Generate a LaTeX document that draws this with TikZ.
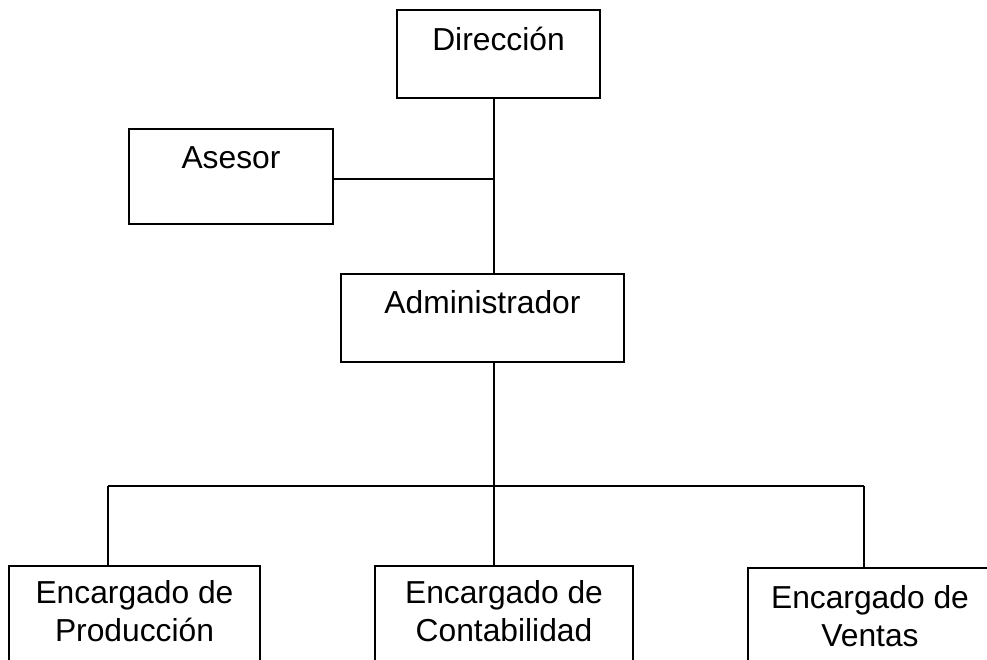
\documentclass[tikz,border=0pt]{standalone}
\usepackage{fontspec}
\setmainfont{Liberation Sans}
\begin{document}
\begin{tikzpicture}[x=0.025cm,y=-0.025cm,
	caja/.style={draw, rectangle, line width=1.3pt, inner sep=0pt, align=center, anchor=base, font=\fontsize{22.6}{27}\selectfont},
	linea/.style={line width=1.2pt}]
	\useasboundingbox (0,0) rectangle (987,659);
	\clip (0,0) rectangle (987,659);
	\node[caja, minimum width=5.075cm, text height=1cm, text depth=1.2cm] (dir) at (498.5,50) {Dirección};
	\node[caja, minimum width=5.1cm, text height=0.975cm, text depth=1.4cm] (ase) at (231,168) {Asesor};
	\node[caja, minimum width=7.075cm, text height=0.975cm, text depth=1.225cm] (adm) at (482.5,313) {Administrador};
	\node[caja, minimum width=6.275cm, text height=1.875cm, text depth=2cm] (prod) at (134.5,641) {Encargado de\\Producción};
	\node[caja, minimum width=6.45cm, text height=1.875cm, text depth=2cm] (cont) at (504,641) {Encargado de\\Contabilidad};
	\node[caja, minimum width=6.1cm, text height=1.95cm, text depth=2cm] (vent) at (870,646) {Encargado de\\Ventas};
	\coordinate (eje) at (494,0);
	\coordinate (ase-sal) at ([yshift=-0.06cm]ase.east);
	\coordinate (izq) at (108,486);
	\coordinate (der) at (864,486);
	\draw[linea] (dir.south -| eje) -- (adm.north -| eje);
	\draw[linea] (ase-sal) -- (ase-sal -| eje);
	\draw[linea] (adm.south -| eje) -- (eje |- izq);
	\draw[linea] (izq) -- (der);
	\draw[linea] (izq) -- (prod.north -| izq);
	\draw[linea] (eje |- izq) -- (cont.north -| eje);
	\draw[linea] (der) -- (vent.north -| der);
\end{tikzpicture}
\end{document}
